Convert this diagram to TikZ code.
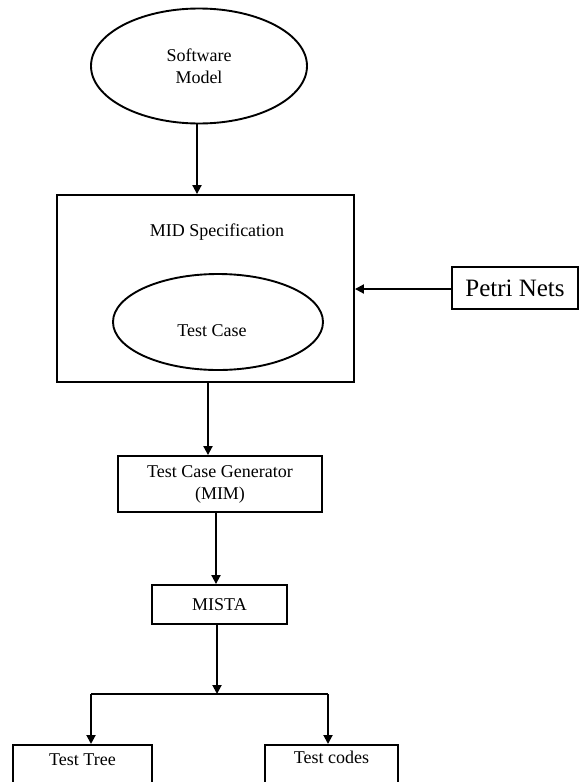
\documentclass[tikz,border=0pt]{standalone}
\usepackage{fontspec}
\setmainfont{Liberation Serif}
\usetikzlibrary{arrows.meta,shapes.geometric}
\tikzset{
  every picture/.style={x=1pt,y=-1pt},
  ln/.style={line width=1.9pt,draw=black},
  arr/.style={ln,-{Triangle[length=9pt,width=9pt]}},
  box/.style={ln,rectangle,inner sep=0pt,font=\fontsize{18}{22}\selectfont},
  ell/.style={ln,ellipse,inner sep=0pt,font=\fontsize{18}{22}\selectfont},
  txt/.style={inner sep=0pt,font=\fontsize{18}{22}\selectfont}
}
\begin{document}
\begin{tikzpicture}
\useasboundingbox (0,0) rectangle (581,782);
\clip (0,0) rectangle (581,782);
\fill[white] (0,0) rectangle (581,782);

% Software Model
\node[ell,minimum width=216pt,minimum height=115pt,align=center] (sm) at (199,66) {Software\\Model};

% MID Specification box
\node[box,minimum width=297pt,minimum height=187pt] (mid) at (205.5,288.5) {};
\node[txt] (midtext) at (217,232) {MID Specification};
\node[ell,minimum width=210pt,minimum height=96pt] (tc) at (218,322) {};
\node[txt] (tctext) at (212,331) {Test Case};

% Petri Nets
\node[box,minimum width=126pt,minimum height=42pt,font=\fontsize{25}{28}\selectfont] (petri) at (515,288) {Petri Nets};

% Test Case Generator
\node[box,minimum width=204pt,minimum height=56pt,align=center] (tcg) at (220,484) {Test Case Generator\\(MIM)};

% MISTA
\node[box,minimum width=135pt,minimum height=39pt] (mista) at (219.5,604.5) {MISTA};

% Bottom boxes
\node[box,anchor=north,minimum width=139pt,text height=12pt,text depth=45pt,inner ysep=9pt] (tt) at (82.5,744) {Test Tree};
\node[box,anchor=north,minimum width=133pt,text height=12pt,text depth=45pt,inner ysep=7pt] (tcd) at (331.5,744) {Test codes};

% connectors
\coordinate (a0) at ([xshift=-2pt]sm.south);
\draw[arr] (a0) -- (a0 |- mid.north);

\draw[arr] ([yshift=-1pt]petri.west) -- ([yshift=-1pt]petri.west -| mid.east);

\coordinate (a1) at ([xshift=2.5pt]mid.south);
\draw[arr] (a1) -- (a1 |- tcg.north);

\coordinate (a2) at ([xshift=-4pt]tcg.south);
\draw[arr] (a2) -- (a2 |- mista.north);

\coordinate (a3) at ([xshift=-2.5pt]mista.south);
\coordinate (j) at (a3 |- 0,694);
\draw[arr] (a3) -- (j);

\coordinate (ja) at (91,694);
\coordinate (jb) at (328,694);
\draw[ln] (ja) -- (jb);
\draw[arr] (ja) -- (ja |- tt.north);
\draw[arr] (jb) -- (jb |- tcd.north);
\end{tikzpicture}
\end{document}
